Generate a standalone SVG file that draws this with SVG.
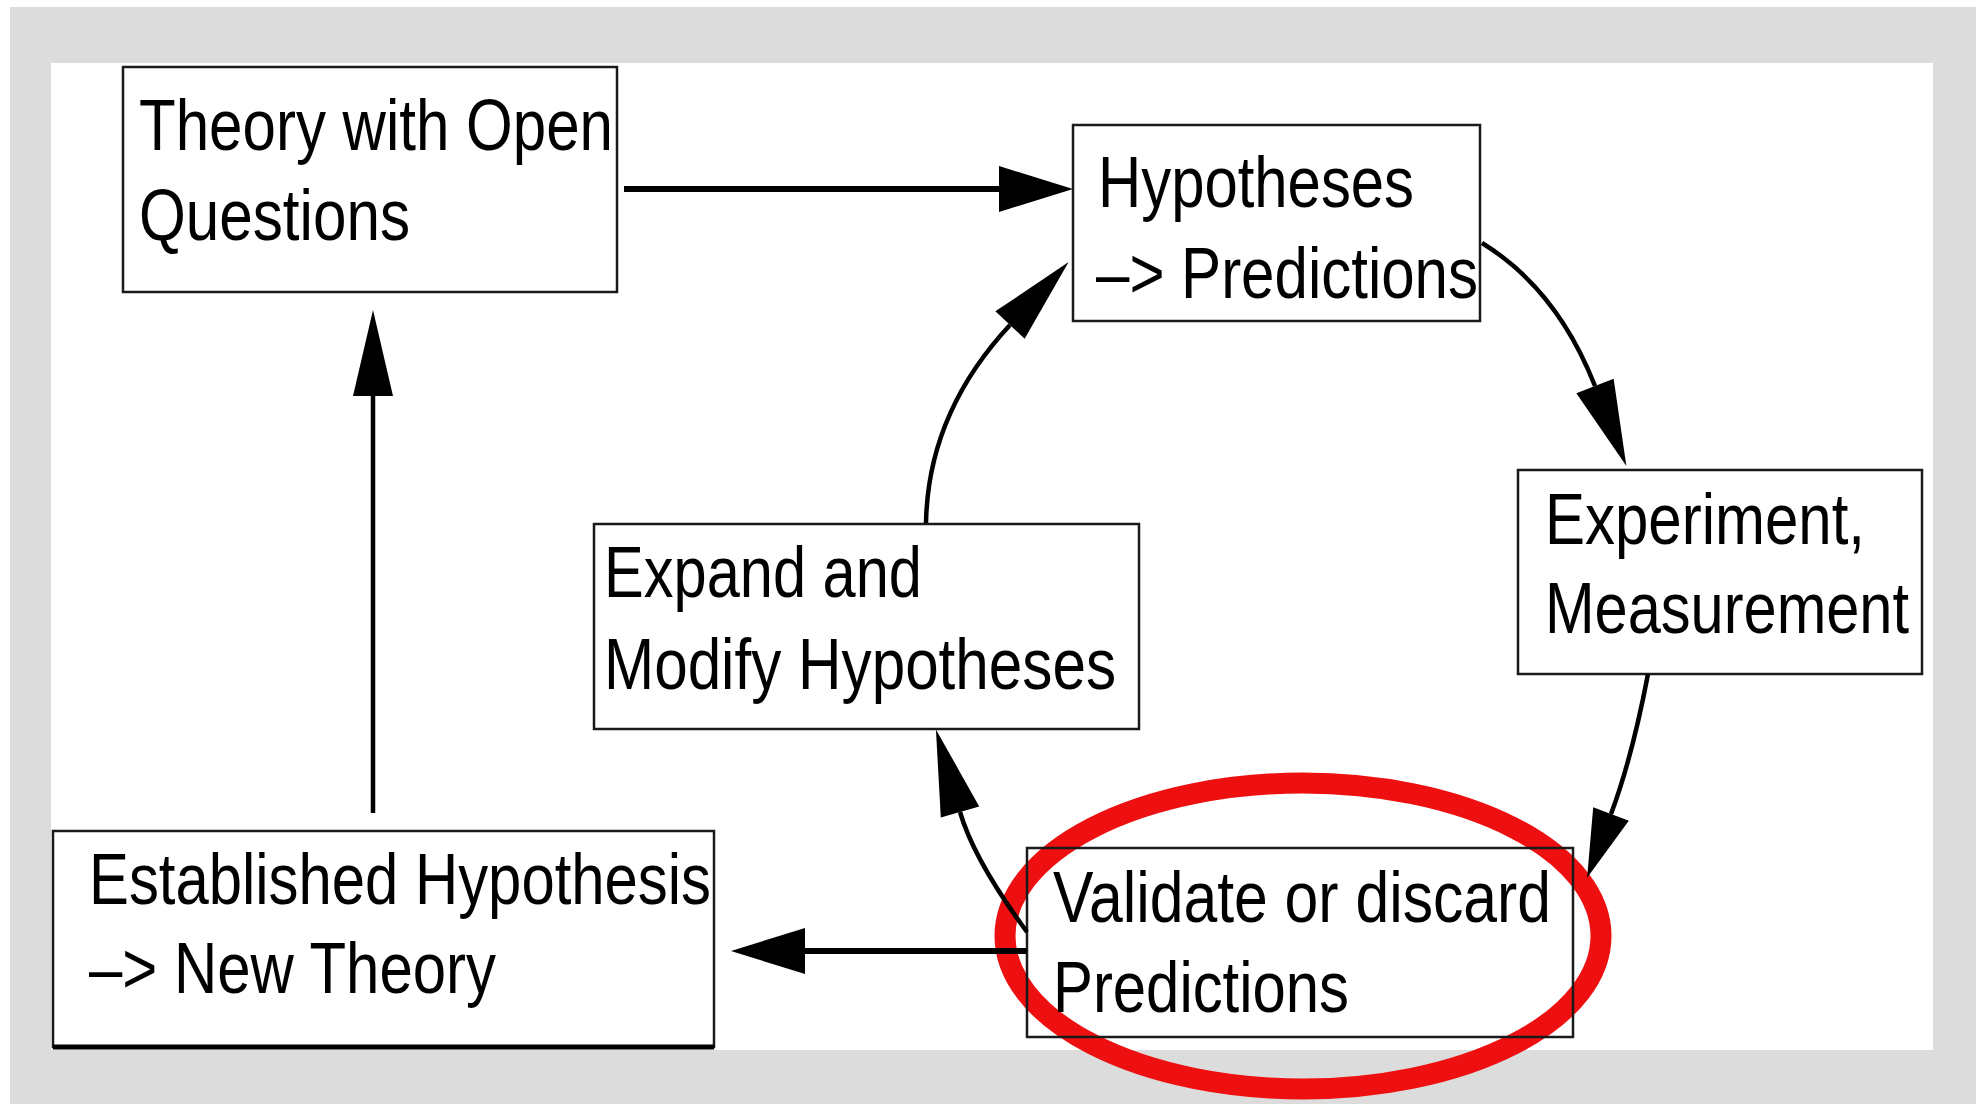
<svg xmlns="http://www.w3.org/2000/svg" width="1976" height="1104" viewBox="0 0 1976 1104">
<style>
.box{fill:none;stroke:#1a1a1a;stroke-width:2.5}
.lbl{font-family:"Liberation Sans",Arial,Helvetica,sans-serif;font-size:72px;fill:#000}
.conn{fill:none;stroke:#000;stroke-linecap:butt}
.thick{stroke-width:6}
.thin{stroke-width:4.5}
</style>
<defs>
<marker id="arrowS" markerUnits="userSpaceOnUse" viewBox="0 -24 76 48" refX="0" refY="0" markerWidth="76" markerHeight="48" orient="auto" overflow="visible">
<path d="M0,-23 L74,0 L0,23 Z" fill="#000"/>
</marker>
<marker id="arrowL" markerUnits="userSpaceOnUse" viewBox="0 -21 88 42" refX="0" refY="0" markerWidth="88" markerHeight="42" orient="auto" overflow="visible">
<path d="M0,-20 L86,0 L0,20 Z" fill="#000"/>
</marker>
<marker id="arrowM" markerUnits="userSpaceOnUse" viewBox="0 -20 70 40" refX="0" refY="0" markerWidth="70" markerHeight="40" orient="auto" overflow="visible">
<path d="M0,-19 L68,0 L0,19 Z" fill="#000"/>
</marker>
</defs>
<rect x="0" y="0" width="1976" height="1104" fill="#ffffff"/>
<rect x="10" y="7" width="1966" height="1097" fill="#dcdcdc"/>
<rect x="51" y="63" width="1882" height="987" fill="#ffffff"/>

<g id="highlight">
<ellipse cx="1303" cy="936" rx="298" ry="153" fill="none" stroke="#ee1010" stroke-width="21"/>
</g>

<g id="node-theory">
<rect class="box" x="123" y="67" width="494" height="225"/>
<text class="lbl" x="139" y="150" textLength="474" lengthAdjust="spacingAndGlyphs">Theory with Open</text>
<text class="lbl" x="139" y="240" textLength="271" lengthAdjust="spacingAndGlyphs">Questions</text>
</g>

<g id="node-hypotheses">
<rect class="box" x="1073" y="125" width="407" height="196"/>
<text class="lbl" x="1098" y="207" textLength="316" lengthAdjust="spacingAndGlyphs">Hypotheses</text>
<text class="lbl" x="1096" y="298" textLength="382" lengthAdjust="spacingAndGlyphs">–&gt; Predictions</text>
</g>

<g id="node-experiment">
<rect class="box" x="1518" y="470" width="404" height="204"/>
<text class="lbl" x="1545" y="544" textLength="320" lengthAdjust="spacingAndGlyphs">Experiment,</text>
<text class="lbl" x="1545" y="633" textLength="364" lengthAdjust="spacingAndGlyphs">Measurement</text>
</g>

<g id="node-expand">
<rect class="box" x="594" y="524" width="545" height="205"/>
<text class="lbl" x="604" y="597" textLength="318" lengthAdjust="spacingAndGlyphs">Expand and</text>
<text class="lbl" x="604" y="689" textLength="512" lengthAdjust="spacingAndGlyphs">Modify Hypotheses</text>
</g>

<g id="node-established">
<rect class="box" x="53" y="831" width="661" height="216"/>
<line x1="53" y1="1047" x2="714" y2="1047" stroke="#000" stroke-width="5"/>
<text class="lbl" x="89" y="904" textLength="622" lengthAdjust="spacingAndGlyphs">Established Hypothesis</text>
<text class="lbl" x="89" y="993" textLength="407" lengthAdjust="spacingAndGlyphs">–&gt; New Theory</text>
</g>

<g id="node-validate">
<rect class="box" x="1027" y="848" width="546" height="189"/>
<text class="lbl" x="1053" y="922" textLength="498" lengthAdjust="spacingAndGlyphs">Validate or discard</text>
<text class="lbl" x="1053" y="1012" textLength="296" lengthAdjust="spacingAndGlyphs">Predictions</text>
</g>

<g id="connectors">
<path class="conn thick" d="M624,189 L999,189" marker-end="url(#arrowS)"/>
<path class="conn thin" d="M373,813 L373,396" marker-end="url(#arrowL)"/>
<path class="conn thin" d="M1482,243 Q1557,289 1595,386" marker-end="url(#arrowL)"/>
<path class="conn thin" d="M1648,674 Q1632,758 1611,814" marker-end="url(#arrowM)"/>
<path class="conn thin" d="M1027,932 Q974,860 960,812" marker-end="url(#arrowL)"/>
<path class="conn thin" d="M926,523 Q928,413 1010,325" marker-end="url(#arrowL)"/>
<path class="conn thick" d="M1027,951 L805,951" marker-end="url(#arrowS)"/>
</g>
</svg>
